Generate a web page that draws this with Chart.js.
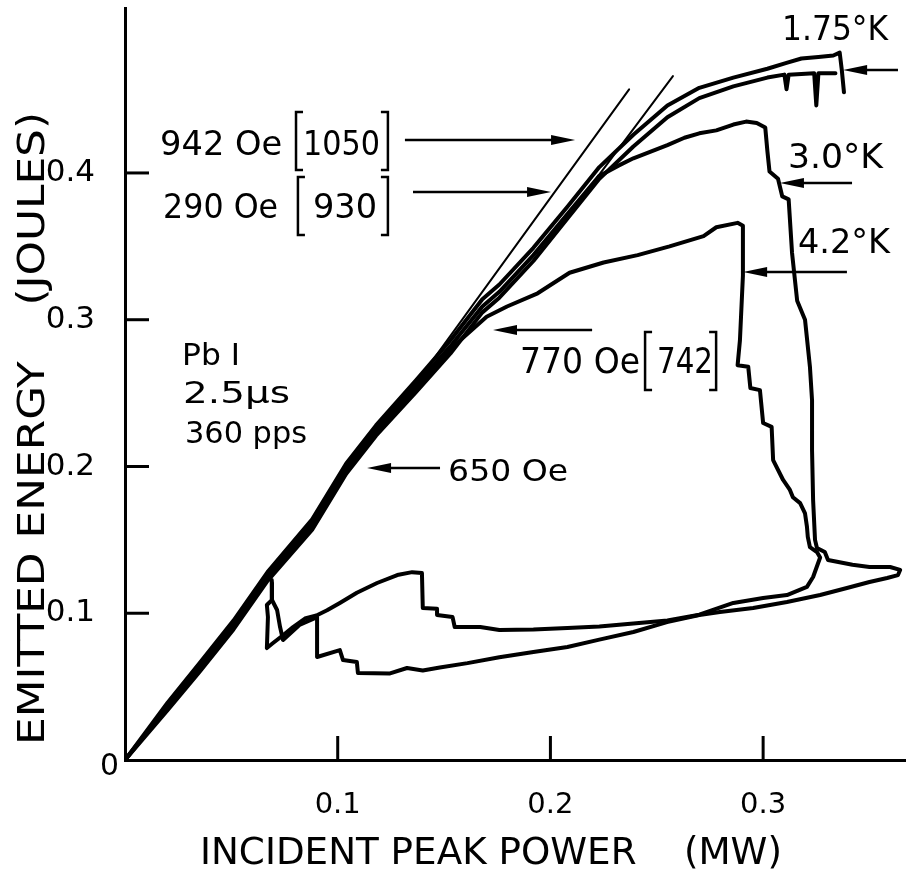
<!DOCTYPE html>
<html>
<head>
<meta charset="utf-8">
<script src="https://cdn.jsdelivr.net/npm/chart.js@4"></script>
<style>
  html, body { margin: 0; padding: 0; background: #fff; }
</style>
</head>
<body>
<canvas id="c" width="907" height="872"></canvas>
<script>
// values: x = incident peak power (MW), y = emitted energy (J)
const xTicks = [0.1, 0.2, 0.3];
const yTicks = [0.1, 0.2, 0.3, 0.4];

// 1.75 K, 942 Oe [1050]
const curve942 = [[0,0],[0.020,0.039],[0.035,0.066],[0.051,0.095],[0.067,0.128],[0.088,0.164],[0.104,0.202],
  [0.118,0.228],[0.137,0.259],[0.153,0.286],[0.168,0.314],[0.176,0.324],[0.192,0.349],[0.208,0.377],
  [0.223,0.404],[0.239,0.426],[0.255,0.446],[0.270,0.458],[0.286,0.465],[0.302,0.471],[0.311,0.475],
  [0.318,0.478],[0.326,0.479],[0.333,0.480],[0.336,0.482],[0.337,0.470],[0.338,0.455]];

// 1.75 K, 290 Oe [930]
const curve290 = [[0,0],[0.020,0.034],[0.035,0.060],[0.051,0.089],[0.067,0.122],[0.088,0.157],[0.104,0.195],
  [0.118,0.221],[0.137,0.251],[0.153,0.277],[0.168,0.305],[0.176,0.315],[0.192,0.340],[0.208,0.369],
  [0.223,0.396],[0.239,0.418],[0.255,0.438],[0.270,0.451],[0.286,0.459],[0.302,0.465],[0.310,0.467],
  [0.311,0.457],[0.312,0.467],[0.324,0.468],[0.325,0.446],[0.326,0.468],[0.334,0.468]];

// 3.0 K, 650 Oe
const curve650 = [[0,0],[0.020,0.037],[0.035,0.063],[0.051,0.093],[0.067,0.125],[0.088,0.161],[0.104,0.199],
  [0.118,0.225],[0.137,0.256],[0.153,0.282],[0.168,0.309],[0.176,0.319],[0.192,0.344],[0.208,0.372],
  [0.223,0.398],[0.232,0.405],[0.239,0.410],[0.255,0.419],[0.263,0.424],[0.270,0.427],[0.278,0.429],
  [0.286,0.433],[0.292,0.435],[0.297,0.434],[0.301,0.431],[0.302,0.415],[0.303,0.401],[0.307,0.396],
  [0.309,0.384],[0.312,0.382],[0.3136,0.3455],[0.316,0.313],[0.3197,0.300],[0.322,0.268],[0.323,0.245],
  [0.323,0.211],[0.3235,0.177],[0.3244,0.150],[0.3253,0.1445],[0.329,0.1417],[0.3305,0.1363],
  [0.342,0.133],[0.350,0.1315],[0.3597,0.1315],[0.3644,0.1295],[0.3634,0.126],[0.3583,0.124],
  [0.350,0.1213],[0.3394,0.1172],[0.3268,0.1124],[0.3112,0.1077],[0.2953,0.1036],[0.2797,0.1008],
  [0.270,0.0988],[0.2548,0.094],[0.239,0.0872],[0.223,0.082],[0.208,0.077],[0.192,0.0736],[0.176,0.070],
  [0.161,0.066],[0.148,0.063],[0.140,0.061],[0.1326,0.0627],[0.1246,0.059],[0.1095,0.0593],[0.109,0.0668],
  [0.1025,0.0681],[0.101,0.0749],[0.0903,0.0702],[0.0903,0.0974],[0.082,0.092],[0.0743,0.0818],
  [0.0729,0.0906],[0.0715,0.1022],[0.0691,0.109],[0.0691,0.1206]];

// 4.2 K, 770 Oe [742]
const curve770 = [[0,0],[0.020,0.036],[0.035,0.062],[0.051,0.091],[0.067,0.124],[0.088,0.159],[0.104,0.197],
  [0.118,0.223],[0.137,0.254],[0.153,0.280],[0.170,0.302],[0.1796,0.309],[0.194,0.318],[0.209,0.332],
  [0.225,0.339],[0.241,0.344],[0.256,0.350],[0.272,0.357],[0.278,0.363],[0.288,0.366],[0.2905,0.364],
  [0.2905,0.330],[0.2891,0.286],[0.288,0.269],[0.293,0.268],[0.294,0.2535],[0.2985,0.252],[0.300,0.2296],
  [0.304,0.227],[0.3047,0.2044],[0.3094,0.1908],[0.3126,0.184],[0.314,0.179],[0.3174,0.175],[0.3197,0.168],
  [0.3206,0.159],[0.321,0.152],[0.322,0.145],[0.3253,0.1417],[0.3268,0.138],[0.3235,0.1247],[0.3206,0.118],
  [0.3112,0.1124],[0.300,0.1104],[0.286,0.107],[0.270,0.099],[0.255,0.095],[0.239,0.093],[0.223,0.091],
  [0.208,0.090],[0.192,0.089],[0.176,0.0886],[0.167,0.0906],[0.155,0.0906],[0.154,0.0974],[0.1467,0.0988],
  [0.1467,0.103],[0.140,0.1036],[0.1396,0.1274],[0.135,0.128],[0.128,0.126],[0.1185,0.1206],[0.109,0.114],
  [0.101,0.107],[0.095,0.102],[0.090,0.0985],[0.0846,0.0964],[0.079,0.0906],[0.0743,0.085],[0.0696,0.0797],
  [0.0667,0.0763],[0.0672,0.0974],[0.0667,0.1056],[0.069,0.109],[0.069,0.1226]];

// the two straight reference lines
const lineA = [[0.139,0.261],[0.237,0.457]];
const lineB = [[0.222,0.397],[0.2576,0.466]];

// annotation arrows [x from, x to, y] (head at "x to")
const arrows = [
  [0.1316, 0.2116, 0.4225],
  [0.1354, 0.2003, 0.387],
  [0.3634, 0.3376, 0.4702],
  [0.3418, 0.3079, 0.3932],
  [0.3394, 0.2906, 0.3325],
  [0.2196, 0.1730, 0.293],
  [0.1481, 0.1138, 0.199]
];

// annotation text: [text, x, y(baseline), font px, width px]
const notes = [
  ['942 Oe', 0.0165, 0.4123, 34, 122],
  ['1050',   0.0837, 0.4123, 34, 77],
  ['290 Oe', 0.0179, 0.3693, 34, 115],
  ['930',    0.0884, 0.3693, 34, 64],
  ['Pb I',   0.0268, 0.2692, 30, 58],
  ['2.5\u03BCs', 0.0273, 0.2433, 30, 107],
  ['360 pps',0.0282, 0.2160, 30, 122],
  ['650 Oe', 0.1519, 0.1901, 30, 120],
  ['770 Oe', 0.1857, 0.2637, 35, 120],
  ['742',    0.2501, 0.2637, 35, 56],
  ['1.75\u00B0K', 0.3089, 0.4906, 34, 106],
  ['3.0\u00B0K',  0.3117, 0.4034, 34, 95],
  ['4.2\u00B0K',  0.3164, 0.3455, 34, 92]
];

// brackets [x left, x right, y top, y bottom]
const brackets = [
  [0.0804, 0.1236, 0.4416, 0.402],
  [0.0813, 0.1236, 0.3973, 0.3578],
  [0.2445, 0.2779, 0.2917, 0.2521]
];

const FONT = '"DejaVu Sans", sans-serif';

function txt(ctx, s, x, y, size, w, rot) {
  ctx.save();
  ctx.font = size + 'px ' + FONT;
  ctx.textBaseline = 'alphabetic';
  ctx.textAlign = 'left';
  ctx.fillStyle = '#000';
  const m = ctx.measureText(s).width;
  ctx.translate(x, y);
  if (rot) ctx.rotate(rot);
  if (w) ctx.scale(w / m, 1);
  ctx.fillText(s, 0, 0);
  ctx.restore();
}

const extras = {
  id: 'extras',
  afterDatasetsDraw(chart) {
    const ctx = chart.ctx, xs = chart.scales.x, ys = chart.scales.y;
    const px = v => xs.getPixelForValue(v), py = v => ys.getPixelForValue(v);
    ctx.save();
    ctx.strokeStyle = '#000';
    ctx.fillStyle = '#000';
    ctx.lineCap = 'butt';

    // inward tick marks
    ctx.lineWidth = 3;
    yTicks.forEach(v => {
      ctx.beginPath(); ctx.moveTo(px(0), py(v)); ctx.lineTo(px(0) + 24, py(v)); ctx.stroke();
    });
    xTicks.forEach(v => {
      ctx.beginPath(); ctx.moveTo(px(v), py(0)); ctx.lineTo(px(v), py(0) - 24); ctx.stroke();
    });

    // arrows
    ctx.lineWidth = 2.5;
    arrows.forEach(a => {
      const x1 = px(a[0]), x2 = px(a[1]), y = py(a[2]);
      const d = Math.sign(x2 - x1);
      ctx.beginPath(); ctx.moveTo(x1, y); ctx.lineTo(x2 - d * 10, y); ctx.stroke();
      ctx.beginPath();
      ctx.moveTo(x2, y);
      ctx.lineTo(x2 - d * 24, y - 5);
      ctx.lineTo(x2 - d * 24, y + 5);
      ctx.closePath(); ctx.fill();
    });

    // brackets
    ctx.lineWidth = 2.5;
    brackets.forEach(b => {
      const l = px(b[0]), r = px(b[1]), t = py(b[2]), bt = py(b[3]);
      ctx.beginPath();
      ctx.moveTo(l + 7, t); ctx.lineTo(l, t); ctx.lineTo(l, bt); ctx.lineTo(l + 7, bt);
      ctx.moveTo(r - 7, t); ctx.lineTo(r, t); ctx.lineTo(r, bt); ctx.lineTo(r - 7, bt);
      ctx.stroke();
    });

    // labels
    notes.forEach(n => txt(ctx, n[0], px(n[1]), py(n[2]), n[3], n[4]));

    // origin label and axis titles
    txt(ctx, '0', px(0) - 25, py(0) + 15, 30, 19);
    txt(ctx, 'INCIDENT PEAK POWER\u00A0\u00A0\u00A0\u00A0(MW)', 200, 864, 37, 582);
    txt(ctx, 'EMITTED ENERGY\u00A0\u00A0\u00A0\u00A0(JOULES)', 44, 745, 37, 633, -Math.PI / 2);
    ctx.restore();
  }
};

function ds(points, width) {
  return {
    data: points.map(p => ({ x: p[0], y: p[1] })),
    showLine: true,
    borderColor: '#000',
    borderWidth: width,
    pointRadius: 0,
    tension: 0,
    borderJoinStyle: 'round',
    borderCapStyle: 'round'
  };
}

new Chart(document.getElementById('c'), {
  type: 'scatter',
  data: {
    datasets: [
      ds(curve942, 4), ds(curve290, 4), ds(curve650, 4), ds(curve770, 4),
      ds(lineA, 2), ds(lineB, 2)
    ]
  },
  options: {
    responsive: false,
    animation: false,
    devicePixelRatio: 1,
    layout: { padding: { top: 8, right: 2, left: 0, bottom: 0 } },
    plugins: { legend: { display: false }, tooltip: { enabled: false } },
    scales: {
      x: {
        type: 'linear', min: 0, max: 0.3667,
        border: { color: '#000', width: 3 },
        grid: { display: false, drawTicks: false },
        afterBuildTicks: s => { s.ticks = xTicks.map(v => ({ value: v })); },
        afterFit: s => { s.height = 112; s.paddingLeft = 0; s.paddingRight = 0; },
        ticks: { color: '#000', font: { family: FONT, size: 29 }, padding: 28,
                 callback: v => v.toFixed(1) }
      },
      y: {
        type: 'linear', min: 0, max: 0.5124,
        border: { color: '#000', width: 3 },
        grid: { display: false, drawTicks: false },
        afterBuildTicks: s => { s.ticks = yTicks.map(v => ({ value: v })); },
        afterFit: s => { s.width = 125; s.paddingTop = 0; s.paddingBottom = 0; },
        ticks: { color: '#000', font: { family: FONT, size: 31 }, padding: 30,
                 callback: v => v.toFixed(1) }
      }
    }
  },
  plugins: [extras]
});
</script>
</body>
</html>
